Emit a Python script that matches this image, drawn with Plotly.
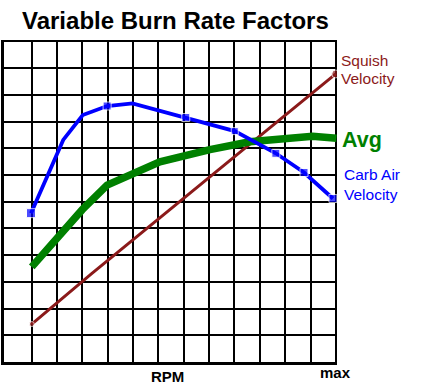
import plotly.graph_objects as go

# ---- data (grid units: x = RPM grid column, y = relative factor) ----
carb_x = [0.98, 2.25, 3.02, 3.98, 4.98, 7.08, 9.01, 10.63, 11.74, 12.88]
carb_y = [5.57, 8.31, 9.24, 9.58, 9.68, 9.15, 8.64, 7.81, 7.09, 6.12]
carb_marker = [9, 0, 0, 8, 0, 8, 7, 8, 8, 8]

avg_x = [1.01, 2.0, 3.0, 3.98, 6.06, 8.03, 9.6, 12.08, 13.02]
avg_y = [3.56, 4.65, 5.7, 6.62, 7.49, 7.95, 8.24, 8.45, 8.37]

squish_x = [1.01, 3.37, 12.99]
squish_y = [1.42, 3.31, 10.78]
squish_marker = [5, 0, 8]

grid_x = list(range(1, 14))
grid_y = list(range(1, 13))

title_text = "Variable Burn Rate Factors"

W, H = 421, 386
ML, MR, MT, MB = 4, 84, 40, 24
PW, PH = W - ML - MR, H - MT - MB

BLUE = "#0000FF"
GREEN = "#008000"
RED = "#8B1A1A"


def px(xp):
    return (xp - ML) / PW


def py(yp):
    return (H - MB - yp) / PH


fig = go.Figure()
fig.add_trace(go.Scatter(x=squish_x, y=squish_y, mode="lines+markers",
                         line=dict(color=RED, width=3),
                         marker=dict(size=squish_marker, color=RED),
                         showlegend=False, hoverinfo="skip"))
fig.add_trace(go.Scatter(x=avg_x, y=avg_y, mode="lines",
                         line=dict(color=GREEN, width=7.5),
                         showlegend=False, hoverinfo="skip"))
fig.add_trace(go.Scatter(x=carb_x, y=carb_y, mode="lines+markers",
                         line=dict(color=BLUE, width=3.8),
                         marker=dict(size=carb_marker, color=BLUE, symbol="square"),
                         showlegend=False, hoverinfo="skip"))

fig.update_xaxes(range=[-0.084, 13.04], tickvals=grid_x, showticklabels=False,
                 showgrid=True, gridcolor="black", gridwidth=1.5,
                 showline=True, linecolor="black", linewidth=3,
                 zeroline=False, ticks="")
fig.update_yaxes(range=[0, 12.05], tickvals=grid_y, showticklabels=False,
                 showgrid=True, gridcolor="black", gridwidth=1.5,
                 showline=True, linecolor="black", linewidth=3,
                 zeroline=False, ticks="")

font_family = "Liberation Sans, Arial, sans-serif"
ann = [
    dict(text="<b>" + title_text + "</b>", x=px(175.5), y=py(20), size=24, color="black"),
    dict(text="<b>RPM</b>", x=px(167), y=py(376.5), size=15, color="black"),
    dict(text="<b>max</b>", x=px(335), y=py(373), size=15, color="black"),
]
for a in ann:
    fig.add_annotation(text=a["text"], x=a["x"], y=a["y"], xref="paper", yref="paper",
                       xanchor="center", yanchor="middle", showarrow=False,
                       font=dict(family=font_family, size=a["size"], color=a["color"]))

side = [
    ("Squish", 338.5, 61, 15.5, RED),
    ("Velocity", 338.5, 79, 15.5, RED),
    ("<b>Avg</b>", 339.5, 139.5, 21.5, GREEN),
    ("Carb Air", 341.5, 174.5, 15.5, BLUE),
    ("Velocity", 341.5, 194, 15.5, BLUE),
]
for t, xx, yy, s, c in side:
    fig.add_annotation(text=t, x=px(xx), y=py(yy), xref="paper", yref="paper",
                       xanchor="left", yanchor="middle", showarrow=False,
                       font=dict(family=font_family, size=s, color=c))

fig.update_layout(width=W, height=H, margin=dict(l=ML, r=MR, t=MT, b=MB),
                  plot_bgcolor="white", paper_bgcolor="white")

fig.write_html("out.html", config={"displayModeBar": False},
               post_script="document.body.style.margin='0';document.body.style.overflow='hidden';")
